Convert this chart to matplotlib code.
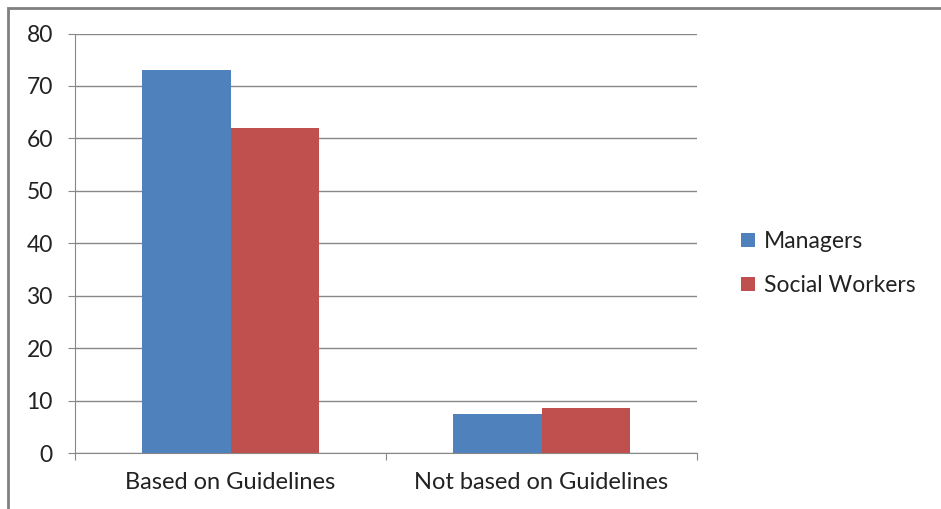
import matplotlib
matplotlib.use("Agg")
import matplotlib.pyplot as plt
from matplotlib.patches import Rectangle
import numpy as np

categories = ["Based on Guidelines", "Not based on Guidelines"]
series_names = ["Managers", "Social Workers"]
managers = [73, 7.5]
social_workers = [62, 8.5]
yticks = [0, 10, 20, 30, 40, 50, 60, 70, 80]
colors = ["#4F81BD", "#C0504D"]

plt.rcParams['font.family'] = ['Lato', 'DejaVu Sans']

W, H = 941, 509
fig = plt.figure(figsize=(W / 100, H / 100), dpi=100)
ax = fig.add_axes([75 / W, 1 - 453 / H, (697 - 75) / W, (453 - 33.5) / H])

x = np.arange(len(categories))
bw = 0.286
ax.bar(x - bw / 2, managers, bw, color=colors[0], label=series_names[0], zorder=3)
ax.bar(x + bw / 2, social_workers, bw, color=colors[1], label=series_names[1], zorder=3)

ax.set_xlim(-0.5, len(categories) - 0.5)
ax.set_ylim(0, 80)
ax.set_yticks(yticks)
ax.set_yticklabels([str(v) for v in yticks], fontsize=16.5, color="#222222")
ax.yaxis.grid(True, color="#888888", linewidth=1.0, zorder=0)

ax.set_xticks(np.arange(-0.5, len(categories), 1.0))
ax.set_xticklabels([])
ax.set_xticks(x, minor=True)
ax.set_xticklabels(categories, minor=True, fontsize=17, color="#222222")
ax.tick_params(axis='x', which='minor', length=0, pad=14)
ax.tick_params(axis='x', which='major', length=5, color="#888888")
ax.tick_params(axis='y', length=5, color="#888888", pad=11)

for s in ["top", "right"]:
    ax.spines[s].set_visible(False)
for s in ["left", "bottom"]:
    ax.spines[s].set_color("#888888")

leg = fig.legend(loc="upper left", bbox_to_anchor=(725 / W, 1 - 215 / H),
                 frameon=False, fontsize=16.5, handlelength=0.6, handleheight=0.6,
                 handletextpad=0.4, labelspacing=1.0, borderpad=0.2)
for t in leg.get_texts():
    t.set_color("#222222")

fig.patches.append(Rectangle((8 / W, -0.05), 1.1, 1 - 8 / H + 0.05, transform=fig.transFigure,
                             fill=False, edgecolor="#808080", linewidth=2))

fig.savefig("out.png", dpi=100)
